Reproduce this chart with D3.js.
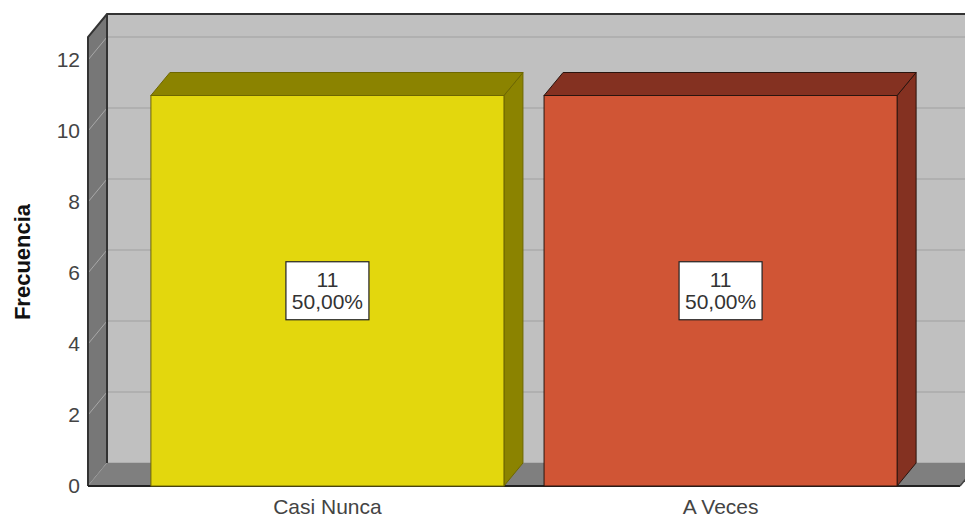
<!DOCTYPE html>
<html>
<head>
<meta charset="utf-8">
<script src="https://cdn.jsdelivr.net/npm/d3@7"></script>
<style>
  body { margin: 0; background: #fff; }
  svg { display: block; font-family: "Liberation Sans", Arial, sans-serif; }
</style>
</head>
<body>
<svg id="chart" width="965" height="520"></svg>
<script>
var categories = ["Casi Nunca", "A Veces"];
var counts = [11, 11];
var percents = ["50,00%", "50,00%"];
var yTicks = [0, 2, 4, 6, 8, 10, 12];
var frontColors = ["#e3d70d", "#d05535"];
var darkColors = ["#8b8300", "#843121"];

var width = 965, height = 520;
var dx = 19, dy = -23;   // depth of the 3d box
var x0 = 88, x1 = 960, yBase = 486;

var svg = d3.select("#chart");

var y = d3.scaleLinear().domain([0, 12]).range([yBase, 60]);
var x = d3.scaleBand()
    .domain(categories)
    .range([x0, x1])
    .paddingInner(0.102)
    .paddingOuter(0.16);

function pts(a) { return a.map(function(p) { return p.join(","); }).join(" "); }

// back wall
svg.append("rect")
    .attr("x", x0 + dx).attr("y", y(12) + dy - 22)
    .attr("width", width).attr("height", yBase - (y(12) - 22))
    .attr("fill", "#c0c0c0");

// gridlines on back wall
svg.selectAll("line.grid").data(yTicks).enter().append("line")
    .attr("class", "grid")
    .attr("x1", x0 + dx).attr("x2", width)
    .attr("y1", function(d) { return y(d) + dy; })
    .attr("y2", function(d) { return y(d) + dy; })
    .attr("stroke", "#b0b0b0").attr("stroke-width", 2);

// left side wall
var topFront = y(12) - 23;
svg.append("polygon")
    .attr("points", pts([[x0, topFront], [x0 + dx, topFront + dy], [x0 + dx, yBase + dy], [x0, yBase]]))
    .attr("fill", "#777777");

svg.selectAll("line.sidegrid").data(yTicks).enter().append("line")
    .attr("class", "sidegrid")
    .attr("x1", x0).attr("y1", function(d) { return y(d); })
    .attr("x2", x0 + dx).attr("y2", function(d) { return y(d) + dy; })
    .attr("stroke", "#a8a8a8").attr("stroke-width", 1);

// floor
svg.append("polygon")
    .attr("points", pts([[x0, yBase], [x1, yBase], [x1 + dx, yBase + dy], [x0 + dx, yBase + dy]]))
    .attr("fill", "#7f7f7f");

// wall edges
svg.append("path")
    .attr("d", "M" + x0 + "," + yBase + "V" + topFront + "L" + (x0 + dx) + "," + (topFront + dy) + "H" + width)
    .attr("fill", "none").attr("stroke", "#333").attr("stroke-width", 2);
svg.append("line")
    .attr("x1", x0 + dx).attr("x2", x0 + dx)
    .attr("y1", topFront + dy).attr("y2", yBase + dy)
    .attr("stroke", "#333").attr("stroke-width", 2);
svg.append("line")
    .attr("x1", x0).attr("x2", x1)
    .attr("y1", yBase).attr("y2", yBase)
    .attr("stroke", "#222").attr("stroke-width", 2);
svg.append("line")
    .attr("x1", x1).attr("y1", yBase)
    .attr("x2", x1 + dx).attr("y2", yBase + dy)
    .attr("stroke", "#444").attr("stroke-width", 1.5);

// bars
var bars = svg.selectAll("g.bar").data(categories).enter().append("g").attr("class", "bar");

bars.each(function(c, i) {
    var g = d3.select(this);
    var bx = x(c), bw = x.bandwidth(), top = y(counts[i]);
    var edge = i === 0 ? "#6e6700" : "#2a140e";
    g.append("polygon")
        .attr("points", pts([[bx + bw, top], [bx + bw + dx, top + dy], [bx + bw + dx, yBase + dy], [bx + bw, yBase]]))
        .attr("fill", darkColors[i]).attr("stroke", edge).attr("stroke-width", 1);
    g.append("polygon")
        .attr("points", pts([[bx, top], [bx + dx, top + dy], [bx + bw + dx, top + dy], [bx + bw, top]]))
        .attr("fill", darkColors[i]).attr("stroke", edge).attr("stroke-width", 1);
    g.append("rect")
        .attr("x", bx).attr("y", top).attr("width", bw).attr("height", yBase - top)
        .attr("fill", frontColors[i]).attr("stroke", edge).attr("stroke-width", 1);

    // data label
    var cx = bx + bw / 2, cy = y(counts[i] / 2);
    g.append("rect")
        .attr("x", cx - 41.5).attr("y", cy - 29).attr("width", 83).attr("height", 58)
        .attr("fill", "#fff").attr("stroke", "#222").attr("stroke-width", 1.2);
    g.append("text")
        .attr("x", cx).attr("y", cy - 4)
        .attr("text-anchor", "middle").attr("font-size", 21).attr("fill", "#333")
        .text(counts[i]);
    g.append("text")
        .attr("x", cx).attr("y", cy + 18)
        .attr("text-anchor", "middle").attr("font-size", 21).attr("fill", "#333")
        .text(percents[i]);
});

// y axis ticks
var yAxis = d3.axisLeft(y).tickValues(yTicks).tickSize(0).tickPadding(8);
var ya = svg.append("g").attr("transform", "translate(" + x0 + ",0)").call(yAxis);
ya.select(".domain").remove();
ya.selectAll("text").attr("font-size", 21).attr("fill", "#444")
    .attr("font-family", "'Liberation Sans', Arial, sans-serif");

// x axis labels
var xAxis = d3.axisBottom(x).tickSize(0).tickPadding(13);
var xa = svg.append("g").attr("transform", "translate(0," + yBase + ")").call(xAxis);
xa.select(".domain").remove();
xa.selectAll("text").attr("font-size", 21).attr("fill", "#444")
    .attr("font-family", "'Liberation Sans', Arial, sans-serif");

// y axis title
svg.append("text")
    .attr("transform", "translate(30,262) rotate(-90)")
    .attr("text-anchor", "middle")
    .attr("font-size", 22).attr("font-weight", "bold").attr("fill", "#111")
    .text("Frecuencia");
</script>
</body>
</html>
